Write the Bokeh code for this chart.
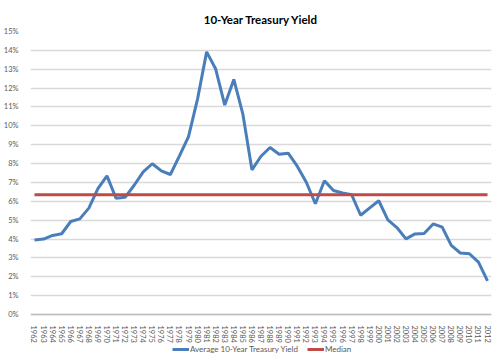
from bokeh.plotting import figure
from bokeh.models import FixedTicker, Legend, LegendItem, Range1d, ColumnDataSource
from bokeh.embed import file_html
from bokeh.resources import INLINE

years = list(range(1962, 2013))
yields = [3.95, 4.00, 4.19, 4.28, 4.93, 5.07, 5.64, 6.67, 7.35, 6.16,
          6.21, 6.85, 7.56, 7.99, 7.61, 7.42, 8.41, 9.43, 11.43, 13.92,
          13.01, 11.10, 12.46, 10.62, 7.67, 8.39, 8.85, 8.49, 8.55, 7.86,
          7.01, 5.87, 7.09, 6.57, 6.44, 6.35, 5.26, 5.65, 6.03, 5.02,
          4.61, 4.01, 4.27, 4.29, 4.80, 4.63, 3.66, 3.26, 3.22, 2.78,
          1.78]
median_value = 6.35
y_ticks = list(range(0, 16))
y_tick_labels = {t: f"{t}%" for t in y_ticks}

FONT = "Lato"
GREY = "#595959"

p = figure(width=492, height=354, output_backend="svg", toolbar_location=None,
           x_range=Range1d(1961.56, 2012.44), y_range=Range1d(-2.12, 15),
           min_border_left=28, min_border_right=1, min_border_top=31, min_border_bottom=0,
           title="10-Year Treasury Yield")
p.title.align = "center"
p.title.vertical_align = "middle"
p.title.text_font = FONT
p.title.text_font_size = "11.5px"
p.title.text_font_style = "bold"
p.title.text_color = "#000000"
p.outline_line_color = None

src = ColumnDataSource(dict(x=years, y=yields, m=[median_value] * len(years)))
r1 = p.line("x", "y", source=src, line_color="#4A7EBB", line_width=3)
r2 = p.line("x", "m", source=src, line_color="#BE4B48", line_width=3)

p.xgrid.grid_line_color = None
p.ygrid.grid_line_color = "#D9D9D9"
p.ygrid.grid_line_width = 1.5

p.yaxis.ticker = FixedTicker(ticks=y_ticks)
p.yaxis.major_label_overrides = y_tick_labels
p.yaxis.axis_line_color = None
p.yaxis.major_tick_line_color = None
p.yaxis.minor_tick_line_color = None
p.yaxis.major_label_standoff = 6
p.yaxis.major_label_text_font = FONT
p.yaxis.major_label_text_font_size = "7.5px"
p.yaxis.major_label_text_color = GREY

p.xaxis.ticker = FixedTicker(ticks=years)
p.xaxis.major_label_overrides = {yv: str(yv) for yv in years}
p.xaxis.major_label_orientation = "vertical"
p.xaxis.fixed_location = 0
p.xaxis.axis_line_color = "#BFBFBF"
p.xaxis.axis_line_width = 1.5
p.xaxis.major_tick_line_color = None
p.xaxis.minor_tick_line_color = None
p.xaxis.major_label_standoff = 5
p.xaxis.major_label_text_font = FONT
p.xaxis.major_label_text_font_size = "7.5px"
p.xaxis.major_label_text_color = GREY

legend = Legend(items=[LegendItem(label="Average 10-Year Treasury Yield", renderers=[r1]),
                       LegendItem(label="Median", renderers=[r2])],
                orientation="horizontal", location=(142, 0),
                label_text_font=FONT, label_text_font_size="8px", label_text_color=GREY,
                glyph_width=17, glyph_height=8, label_height=8, label_standoff=1,
                spacing=9, padding=0, margin=0, border_line_color=None,
                background_fill_alpha=0)
p.add_layout(legend, "center")

open("out.html", "w").write(file_html(p, INLINE))
